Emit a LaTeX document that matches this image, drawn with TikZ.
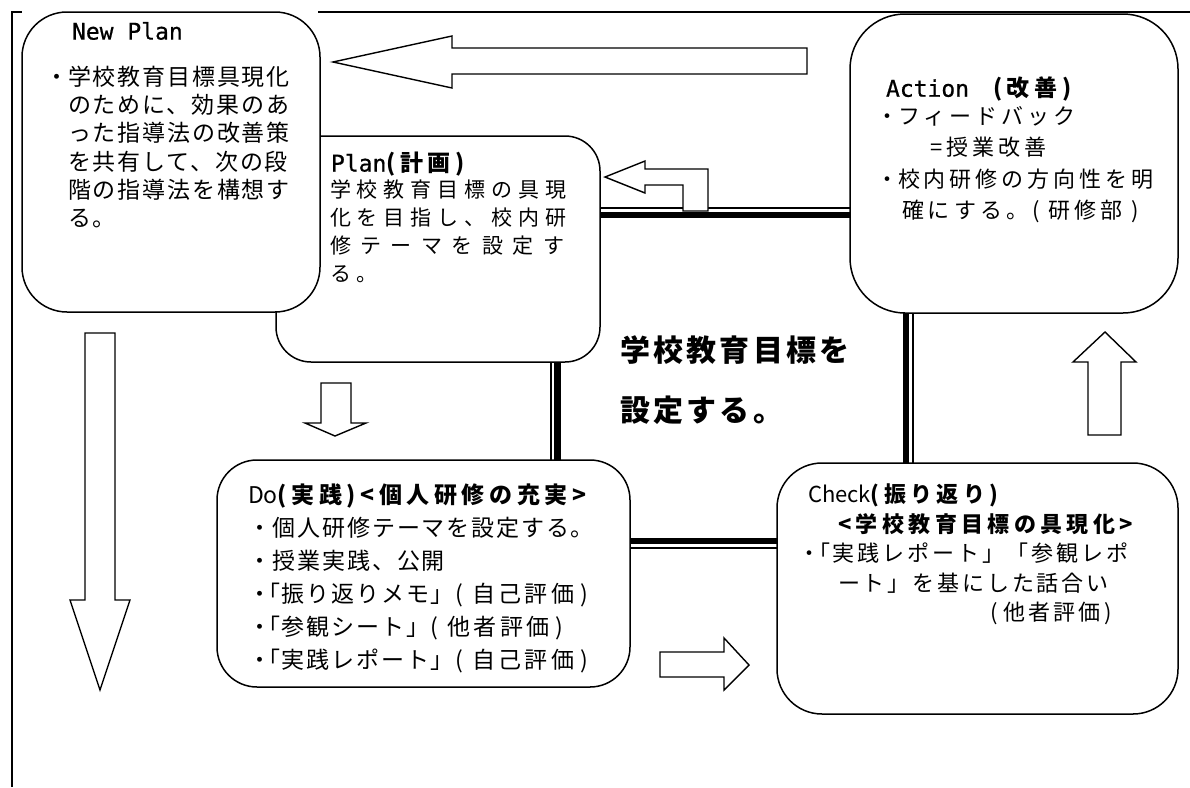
\documentclass[tikz,border=0pt]{standalone}
\usepackage{fontspec}
\setmainfont{Noto Sans CJK JP}
\newfontfamily\jpa[LetterSpace=8]{Noto Sans CJK JP}
\newfontfamily\jpe[LetterSpace=14]{Noto Sans CJK JP}
\newfontfamily\jpb[LetterSpace=28]{Noto Sans CJK JP}
\newfontfamily\jpbw[LetterSpace=45]{Noto Sans CJK JP}
\newfontfamily\jpc[LetterSpace=13]{Noto Sans CJK JP}
\newfontfamily\jpd[LetterSpace=18]{Noto Sans CJK JP}
\newfontfamily\jph[LetterSpace=20]{Noto Sans CJK JP}
\newfontfamily\jpm[LetterSpace=11]{Noto Sans CJK JP}
\newfontfamily\lat[FakeBold=0.6]{DejaVu Sans Mono}
\begin{document}
\begin{tikzpicture}[x=1pt,y=-1pt,
  rbox/.style={draw, line width=1.5pt, fill=white, anchor=north west, inner sep=0pt, outer sep=0pt},
  blk/.style={draw, line width=1.4pt, fill=white, line join=miter},
  txt/.style={anchor=north west, inner sep=0pt, outer sep=0pt, align=left},
  frm/.style={line width=1.4pt}]
\useasboundingbox (0,0) rectangle (1190,787);
% page frame
\coordinate (fBL) at (12,787);
\coordinate (fTL) at (12,12);
\coordinate (fT1) at (22,12);
\coordinate (fT2) at (318,12);
\coordinate (fTR) at (1190,12);
\draw[frm] (fBL) -- (fTL) -- (fT1);
\draw[frm] (fT2) -- (fTR);
% double-line frame round the centre
\coordinate (tA) at (551,208); \coordinate (tB) at (913,548);
\coordinate (kA) at (557.5,215); \coordinate (kB) at (906,541);
\draw[line width=1.4pt] (tA) rectangle (tB);
\draw[line width=6.5pt] (kA) rectangle (kB);
% boxes
\node[rbox, rounded corners=35pt, minimum width=324pt, minimum height=226pt] (plan) at (276,136) {};
\node[rbox, rounded corners=45pt, minimum width=298pt, minimum height=300pt] (newplan) at (22,12) {};
\node[rbox, rounded corners=55pt, minimum width=328pt, minimum height=299pt] (action) at (850,14) {};
\node[rbox, rounded corners=40pt, minimum width=413pt, minimum height=227pt] (dobox) at (217,460) {};
\node[rbox, rounded corners=45pt, minimum width=401pt, minimum height=251pt] (check) at (777,463) {};
% block arrows
\draw[blk] (333,62) -- (452,36) -- (452,48) -- (807,48) -- (807,74) -- (452,74) -- (452,88) -- cycle;
\draw[blk] (605,177) -- (645,161) -- (645,169) -- (708,169) -- (708,211) -- (683,211) -- (683,185) -- (645,185) -- (645,193) -- cycle;
\draw[blk] (85,333) -- (115,333) -- (115,600) -- (130,600) -- (100,690) -- (70,600) -- (85,600) -- cycle;
\draw[blk] (321,383) -- (351,383) -- (351,423) -- (366,423) -- (335,436) -- (305,423) -- (321,423) -- cycle;
\draw[blk] (660,652) -- (724,652) -- (724,638) -- (749,665) -- (724,690) -- (724,677) -- (660,677) -- cycle;
\draw[blk] (1088,435) -- (1088,362) -- (1073,362) -- (1105,332) -- (1136,362) -- (1121,362) -- (1121,435) -- cycle;
% texts
\node[txt, font=\lat\fontsize{23}{26}\selectfont] (tnp) at (72,22) {New Plan};
\node[txt, font=\jpa\fontsize{23}{28.2}\selectfont] (tnpb) at (68,66) {\llap{・}学校教育目標具現化\\のために、効果のあ\\った指導法の改善策\\を共有して、次の段\\階の指導法を構想す\\る。};
\node[txt, font=\fontsize{23}{26}\selectfont] (tpl) at (331,152) {{\lat Plan}{\jph\bfseries (計画)}};
\node[txt, font=\jpb\fontsize{21}{28}\selectfont] (tplb) at (330,180) {学校教育目標の具現\\化を目指し、校内研\\{\jpbw 修テーマを設定す}\\る。};
\node[txt, font=\fontsize{23}{26}\selectfont] (tac) at (886,77) {{\lat Action}\hspace{24pt}{\jph\bfseries (改善)}};
\node[txt, font=\jpd\fontsize{22}{31.5}\selectfont] (tacb) at (898,106) {\llap{・}フィードバック\\\hspace{32pt}=授業改善\\\llap{・}校内研修の方向性を明\\\hspace{4pt}確にする。( 研修部 )};
\node[txt, font=\jpm\bfseries\fontsize{30}{60}\selectfont] (tctr) at (620,336) {学校教育目標を\\設定する。};
\node[txt, font=\fontsize{23}{33}\selectfont] (tdo) at (248,484) {Do{\jph\bfseries (実践)<個人研修の充実>}};
\node[txt, font=\jpa\fontsize{23}{33}\selectfont] (tdob) at (248,517) {・個人研修テーマを設定する。\\・授業実践、公開\\・\kern-14pt「振り返りメモ」(\hspace{9pt}{\jpe 自己評価}\hspace{6pt})\\・\kern-14pt「参観シート」(\hspace{9pt}{\jpe 他者評価}\hspace{6pt})\\・\kern-14pt「実践レポート」(\hspace{9pt}{\jpe 自己評価}\hspace{6pt})};
\node[txt, font=\fontsize{22}{30}\selectfont] (tch) at (808,484) {Check{\jph\bfseries (振り返り)}};
\node[txt, font=\jph\bfseries\fontsize{22}{30}\selectfont] (tch2) at (838,514) {<学校教育目標の具現化>};
\node[txt, font=\jpc\fontsize{22}{29.5}\selectfont] (tchb) at (798,543) {・\kern-12pt「実践レポート」「参観レポ\\\hspace*{40pt}ート」を基にした話合い\\\hspace*{192pt}(\hspace{6pt}他者評価\hspace{4pt})};
\end{tikzpicture}
\end{document}
